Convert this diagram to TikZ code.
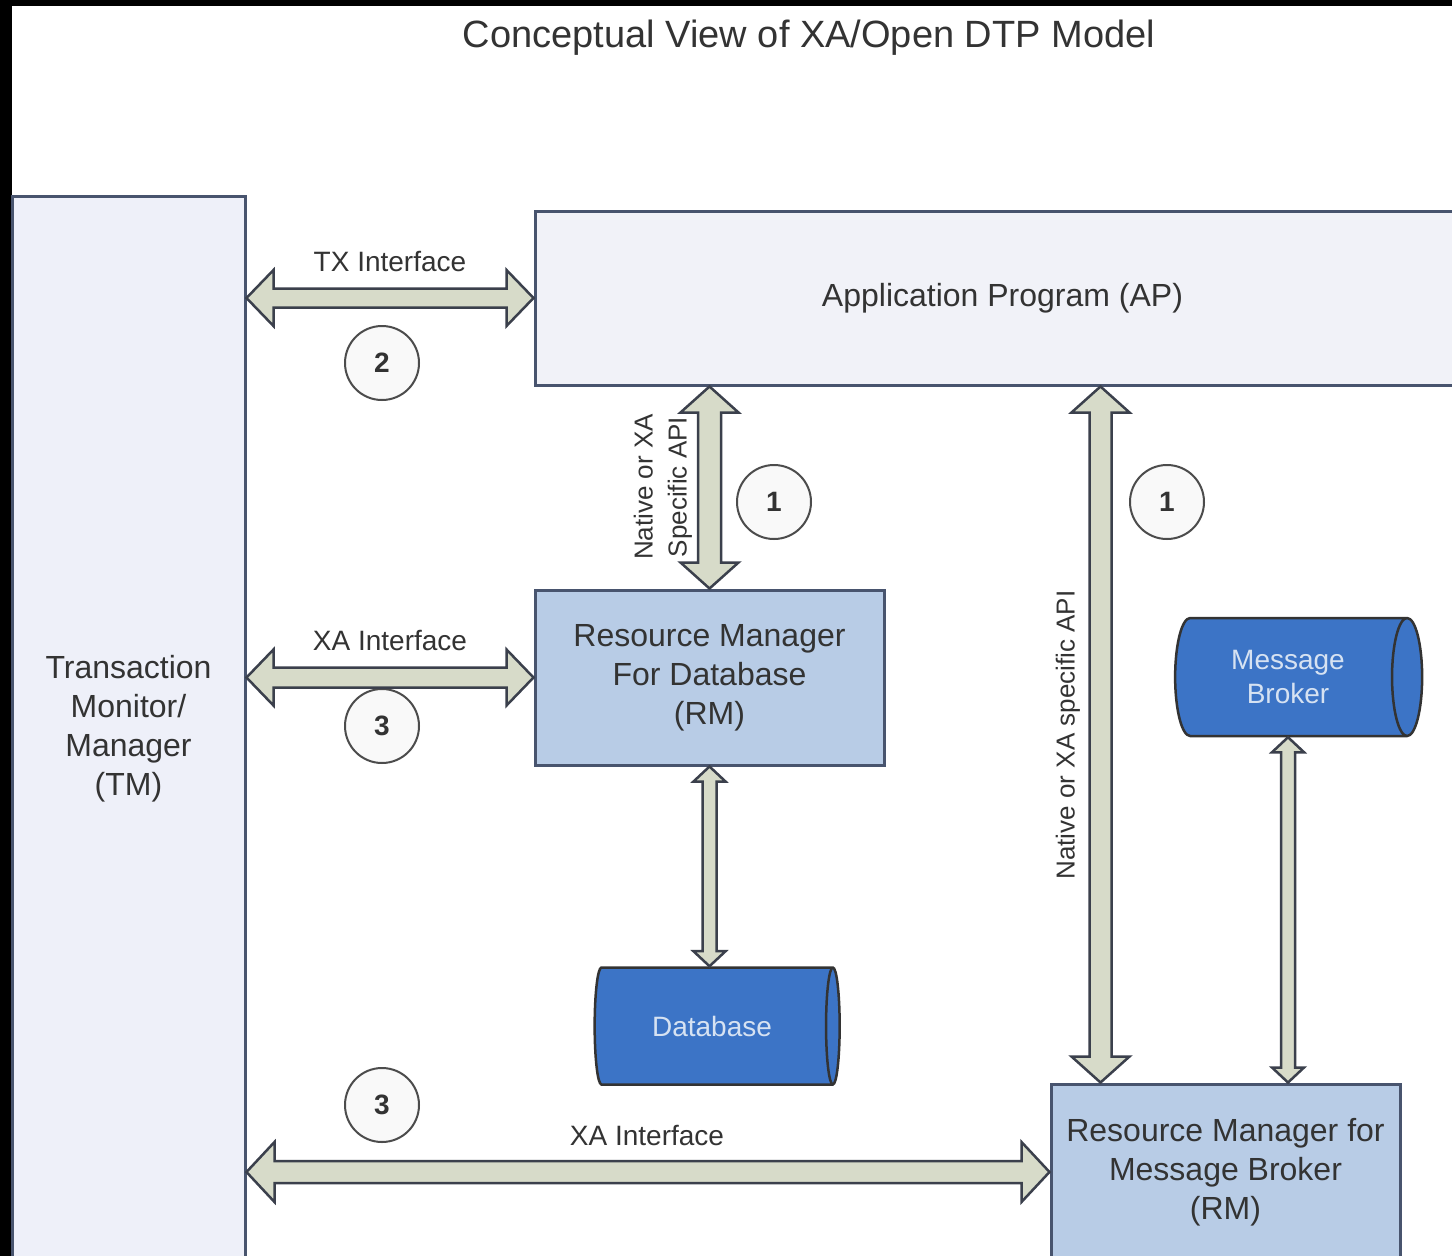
\documentclass[tikz,border=0pt]{standalone}
\usepackage{fontspec}
\setmainfont{Liberation Sans}
\usetikzlibrary{positioning,calc,shapes.geometric}

\definecolor{tmfill}{HTML}{EEF0F9}
\definecolor{apfill}{HTML}{F1F2F8}
\definecolor{rmfill}{HTML}{B8CCE6}
\definecolor{boxline}{HTML}{48546E}
\definecolor{arrfill}{HTML}{D7DBC9}
\definecolor{arrline}{HTML}{3B404C}
\definecolor{dbfill}{HTML}{3C74C6}
\definecolor{dbtext}{HTML}{D6E2F2}
\definecolor{txtgray}{HTML}{333333}

\tikzset{
  box/.style={rectangle,draw=boxline,line width=3pt,text=txtgray,align=center,font=\fontsize{32}{39}\selectfont},
  lbl/.style={text=txtgray,font=\fontsize{28}{34}\selectfont},
  numc/.style={circle,draw=black!70,fill=gray!5,line width=2pt,minimum size=74pt,inner sep=0pt,text=txtgray,font=\fontsize{28}{34}\selectfont\bfseries},
  store/.style={cylinder,aspect=0.5,draw=black!80,line width=2.5pt,fill=dbfill,text=dbtext,align=center,font=\fontsize{28}{34}\selectfont},
  barrow/.style={draw=arrline,fill=arrfill,line width=2.5pt,line join=miter}
}

% block arrows: #1 first end, #2 second end, #3 shaft half width, #4 head half width, #5 head length
\newcommand{\hbarrow}[5]{\path[barrow] let \p1=#1, \p2=#2 in
  (\x1,\y1) -- ({\x1+#5},{\y1+#4}) -- ({\x1+#5},{\y1+#3}) -- ({\x2-#5},{\y1+#3}) -- ({\x2-#5},{\y1+#4}) -- (\x2,\y1)
  -- ({\x2-#5},{\y1-#4}) -- ({\x2-#5},{\y1-#3}) -- ({\x1+#5},{\y1-#3}) -- ({\x1+#5},{\y1-#4}) -- cycle;}
\newcommand{\vbarrow}[5]{\path[barrow] let \p1=#1, \p2=#2 in
  (\x1,\y1) -- ({\x1+#4},{\y1-#5}) -- ({\x1+#3},{\y1-#5}) -- ({\x1+#3},{\y2+#5}) -- ({\x1+#4},{\y2+#5}) -- (\x1,\y2)
  -- ({\x1-#4},{\y2+#5}) -- ({\x1-#3},{\y2+#5}) -- ({\x1-#3},{\y1-#5}) -- ({\x1-#4},{\y1-#5}) -- cycle;}

\begin{document}
\begin{tikzpicture}[x=1pt,y=-1pt]
\clip (0,0) rectangle (1452,1256);
\fill[black] (0,0) rectangle (1452,1256);
\fill[white] (12,6) rectangle (1452,1256);

\node[text=txtgray,font=\fontsize{38}{44}\selectfont] (title) at (809,38) {Conceptual View of XA/Open DTP Model};

\node[box,fill=tmfill,minimum width=233pt,minimum height=1066pt] (tm) at (128.5,729) {Transaction\\Monitor/\\Manager\\(TM)};
\node[box,fill=apfill,minimum width=935pt,minimum height=174pt] (ap) at (1002.5,298) {Application Program (AP)};
\node[box,fill=rmfill,minimum width=349pt,minimum height=175pt] (rmdb) at (709.5,677.5) {Resource Manager\\For Database\\(RM)};
\node[box,fill=rmfill,minimum width=349pt,minimum height=176pt] (rmmb) at (1225.5,1172) {Resource Manager for\\Message Broker\\(RM)};

\node[store,minimum height=245pt,minimum width=117pt] (db) at (712,1026) {Database};
\node[store,minimum height=247pt,minimum width=118pt] (mb) at (1288,677) {Message\\Broker};

\node[lbl] (txl) at (390,262) {TX Interface};
\node[lbl] (xal) at (390,640) {XA Interface};
\node[lbl] (xbl) at (647,1135) {XA Interface};
\node[lbl,rotate=90,align=center,font=\fontsize{26}{34}\selectfont] (apil) at (663,487) {Native or XA\\Specific API};
\node[lbl,rotate=90,font=\fontsize{26}{34}\selectfont] (apim) at (1068,735) {Native or XA specific API};

\node[numc] (n2) at (382,363) {2};
\node[numc] (n1a) at (774,502) {1};
\node[numc] (n1b) at (1167,502) {1};
\node[numc] (n3a) at (382,726) {3};
\node[numc] (n3b) at (382,1105) {3};

\coordinate (apiend) at ($(rmmb.north west)+(51,0)$);

\hbarrow{(tm.east |- ap.west)}{(ap.west)}{9.5pt}{28pt}{27pt}
\hbarrow{(tm.east |- rmdb.west)}{(rmdb.west)}{10pt}{28pt}{27pt}
\hbarrow{(tm.east |- rmmb.west)}{(rmmb.west)}{11pt}{30pt}{28pt}
\vbarrow{(rmdb.north |- ap.south)}{(rmdb.north)}{11.5pt}{29pt}{26pt}
\vbarrow{(apiend |- ap.south)}{(apiend)}{11pt}{29pt}{26pt}
\vbarrow{(rmdb.south)}{(rmdb.south |- db.north)}{7pt}{16pt}{15pt}
\vbarrow{(mb.south)}{(mb.south |- rmmb.north)}{7pt}{16pt}{15pt}
\end{tikzpicture}
\end{document}
